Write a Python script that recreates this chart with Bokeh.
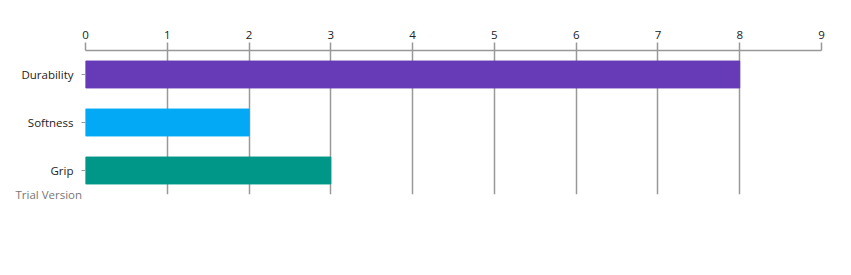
from bokeh.plotting import figure
from bokeh.models import Range1d, FactorRange, FixedTicker, Title, ColumnDataSource
from bokeh.embed import file_html
from bokeh.resources import INLINE

categories = ["Durability", "Softness", "Grip"]
values = [8, 2, 3]
colors = ["#673AB7", "#03A9F4", "#009688"]
x_ticks = [0, 1, 2, 3, 4, 5, 6, 7, 8, 9]

src = ColumnDataSource(dict(cat=categories, val=values, color=colors))

p = figure(width=851, height=275, output_backend="svg", toolbar_location=None,
           x_axis_location="above",
           y_range=FactorRange(*reversed(categories), range_padding=0),
           x_range=Range1d(0, 9),
           min_border_left=85, min_border_right=30, min_border_top=50, min_border_bottom=81)
p.outline_line_color = None
p.background_fill_color = "white"
p.border_fill_color = "white"

p.hbar(y="cat", right="val", left=0, height=0.56, color="color", source=src)

xa = p.xaxis[0]
xa.ticker = FixedTicker(ticks=x_ticks)
xa.axis_line_color = "#999999"
xa.axis_line_width = 1.5
xa.major_tick_line_color = "#999999"
xa.major_tick_line_width = 1.5
xa.major_tick_out = 8
xa.major_tick_in = 0
xa.minor_tick_line_color = None
xa.major_label_text_font = "Open Sans"
xa.major_label_text_font_size = "11.5px"
xa.major_label_text_color = "#222222"
xa.major_label_standoff = 4

ya = p.yaxis[0]
ya.axis_line_color = None
ya.major_tick_line_color = "#999999"
ya.major_tick_out = 4
ya.major_tick_in = 0
ya.minor_tick_line_color = None
ya.major_label_text_font = "Open Sans"
ya.major_label_text_font_size = "11.5px"
ya.major_label_text_color = "#222222"
ya.major_label_standoff = 8

p.xgrid.grid_line_color = "#999999"
p.xgrid.grid_line_width = 1.5
p.xgrid.ticker = FixedTicker(ticks=x_ticks)
p.ygrid.grid_line_color = None

p.add_layout(Title(text="Trial Version", align="left", offset=-70, standoff=-16,
                   vertical_align="top", text_line_height=0.5,
                   text_font="Open Sans", text_font_size="11.5px", text_font_style="normal",
                   text_color="#777777"), "below")

open("out.html", "w").write(file_html(p, INLINE))
